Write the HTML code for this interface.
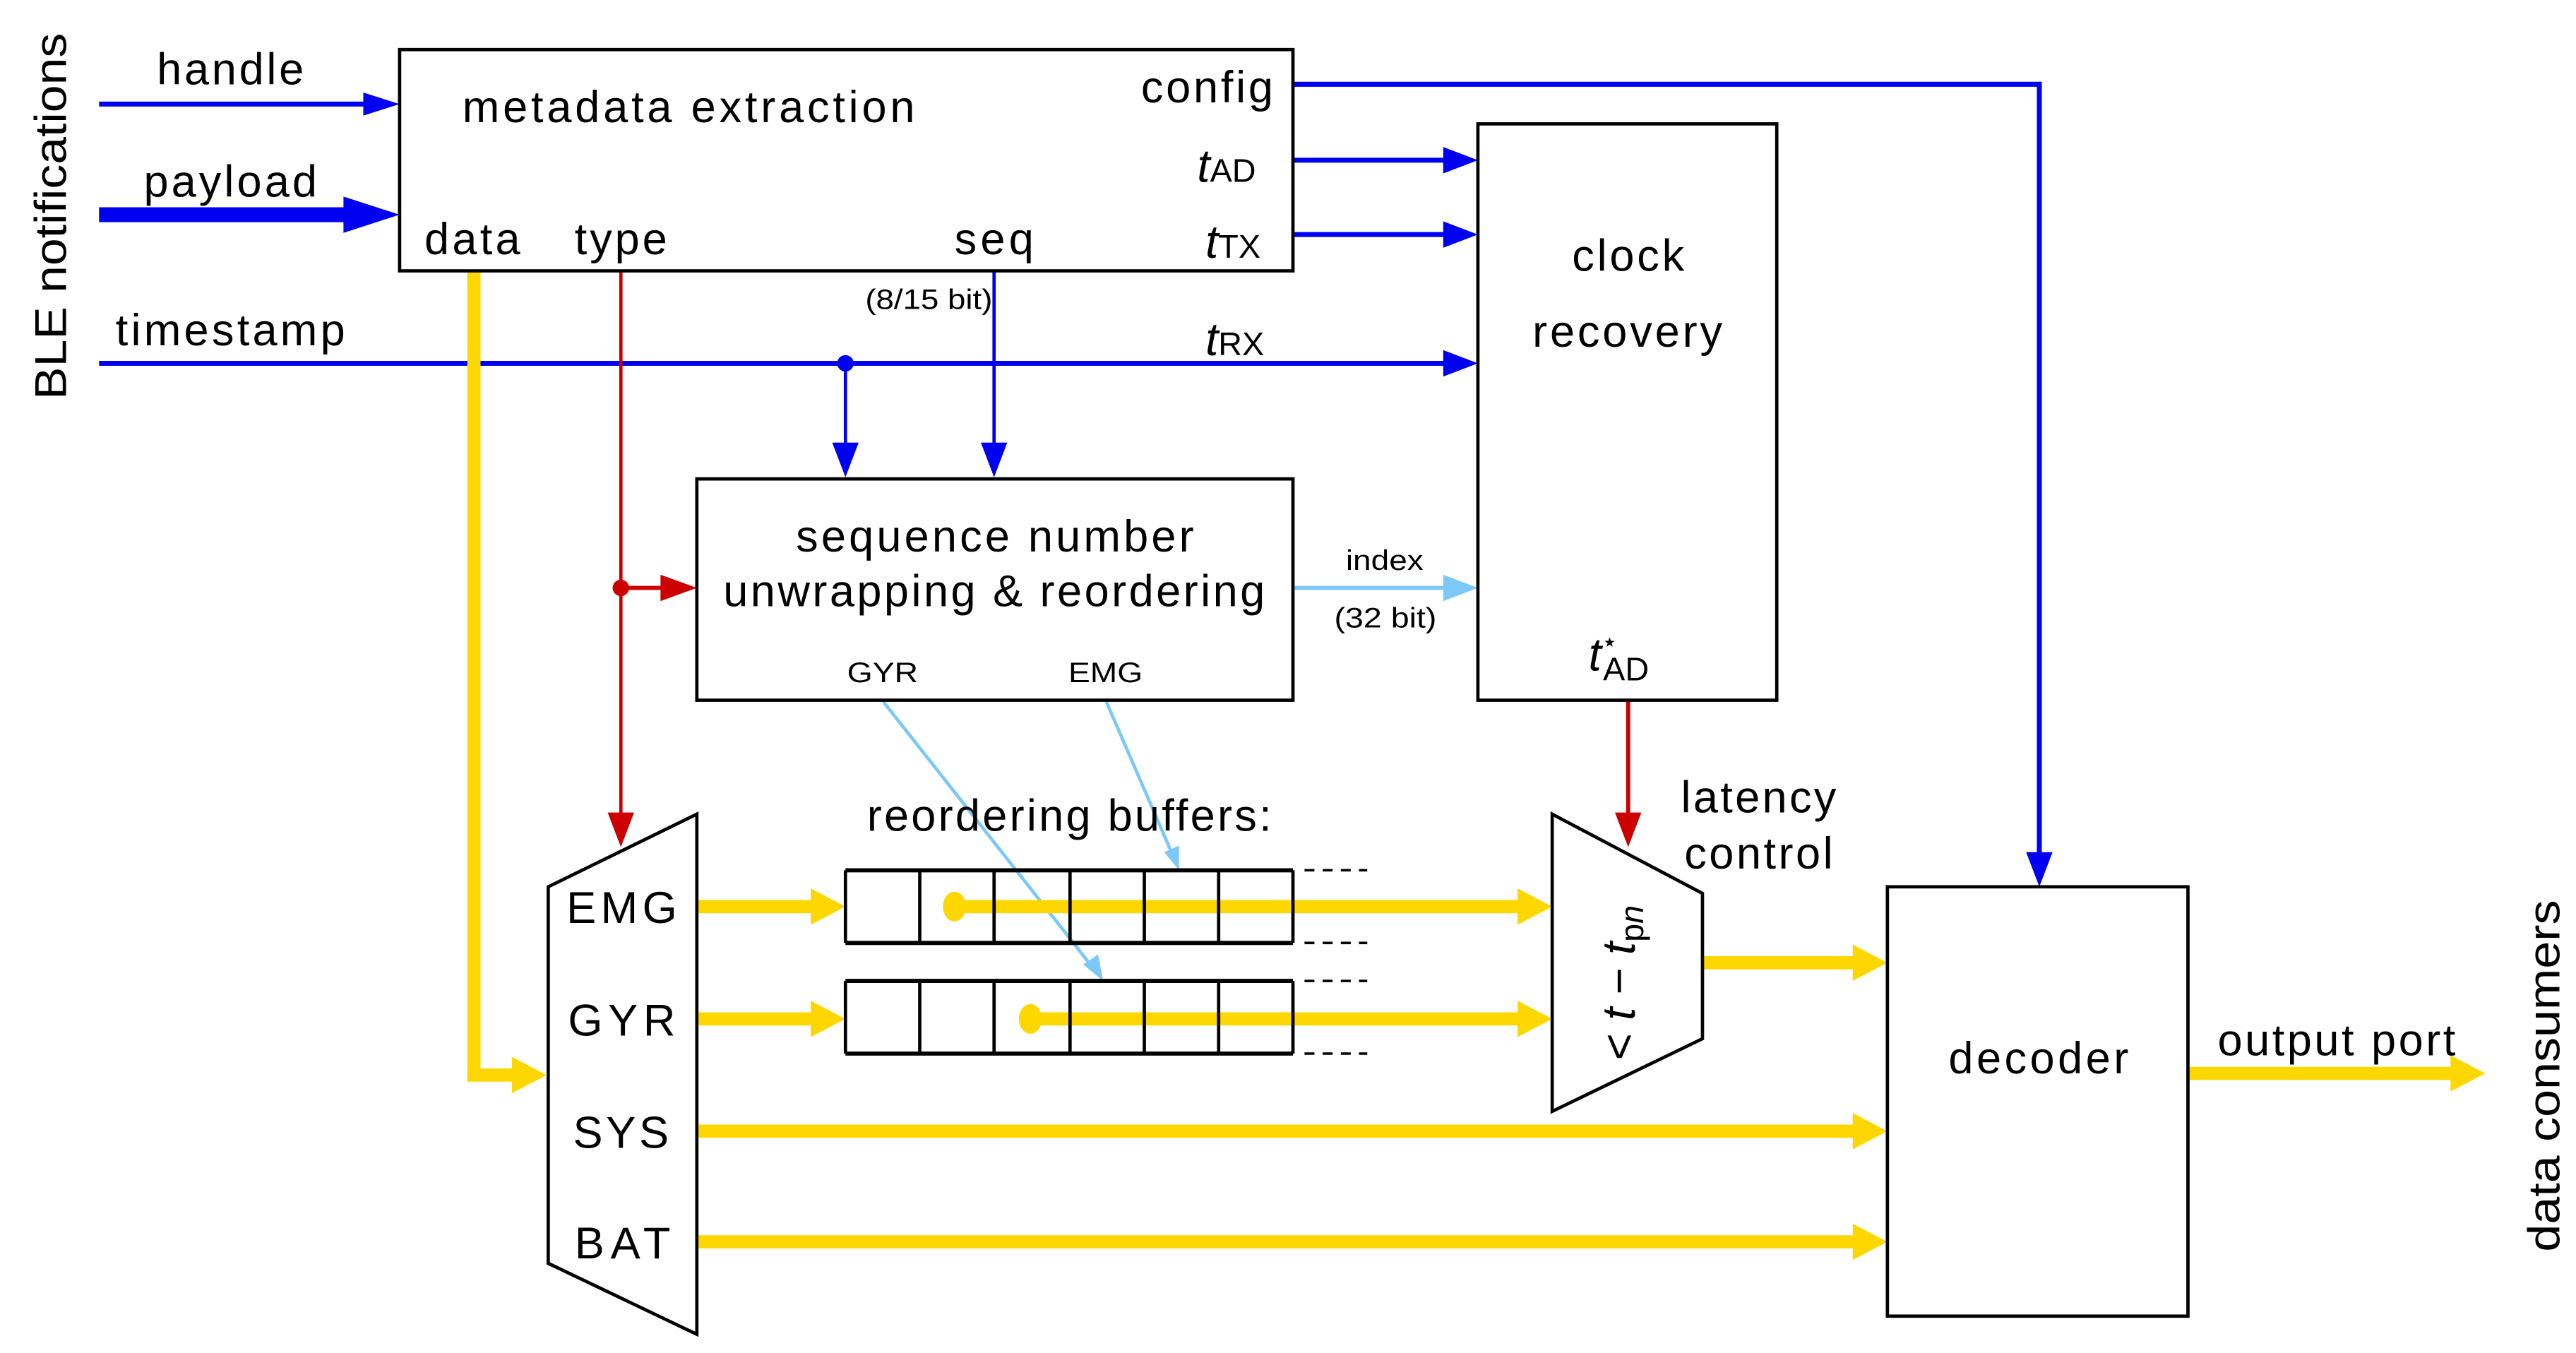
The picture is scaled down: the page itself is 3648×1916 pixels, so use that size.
<!DOCTYPE html>
<html><head><meta charset="utf-8"><style>
html,body{margin:0;padding:0;background:#fff;}
svg{display:block;}
text{font-family:"Liberation Sans",sans-serif;fill:#000;}
.m{font-family:"Liberation Serif",serif;}
</style></head><body>
<svg width="3648" height="1916" viewBox="0 0 1560 819.3" xmlns="http://www.w3.org/2000/svg">
<rect width="1560" height="820" fill="#fff"/>
<g fill="none" stroke-linecap="butt">
<line x1="60" y1="63" x2="228" y2="63" stroke="#0000f0" stroke-width="3"/>
<line x1="60" y1="130" x2="212" y2="130" stroke="#0000f0" stroke-width="9"/>
<line x1="60" y1="220" x2="880" y2="220" stroke="#0000f0" stroke-width="3"/>
<polyline points="783,51 1235,51 1235,520" stroke="#0000f0" stroke-width="3"/>
<line x1="783" y1="97" x2="880" y2="97" stroke="#0000f0" stroke-width="3"/>
<line x1="783" y1="142" x2="880" y2="142" stroke="#0000f0" stroke-width="3"/>
<line x1="602" y1="164" x2="602" y2="272" stroke="#0000f0" stroke-width="2"/>
<line x1="512" y1="220" x2="512" y2="272" stroke="#0000f0" stroke-width="2"/>
<line x1="783" y1="356" x2="880" y2="356" stroke="#7cc8f8" stroke-width="2.5"/>
<line x1="535" y1="425" x2="665" y2="590" stroke="#7cc8f8" stroke-width="2"/>
<line x1="670" y1="425" x2="712" y2="522" stroke="#7cc8f8" stroke-width="2"/>
<line x1="376" y1="164" x2="376" y2="495" stroke="#cc0000" stroke-width="2"/>
<line x1="376" y1="356" x2="405" y2="356" stroke="#cc0000" stroke-width="2.5"/>
<line x1="986" y1="424" x2="986" y2="496" stroke="#cc0000" stroke-width="2.5"/>
<polyline points="287,164 287,651 314,651" stroke="#ffd700" stroke-width="8"/>
<line x1="422" y1="549" x2="495" y2="549" stroke="#ffd700" stroke-width="8"/>
<line x1="422" y1="617" x2="495" y2="617" stroke="#ffd700" stroke-width="8"/>
<line x1="578" y1="549" x2="922" y2="549" stroke="#ffd700" stroke-width="8"/>
<line x1="624" y1="617" x2="922" y2="617" stroke="#ffd700" stroke-width="8"/>
<line x1="422" y1="685" x2="1126" y2="685" stroke="#ffd700" stroke-width="8"/>
<line x1="422" y1="752" x2="1126" y2="752" stroke="#ffd700" stroke-width="8"/>
<line x1="1031" y1="583" x2="1126" y2="583" stroke="#ffd700" stroke-width="8"/>
<line x1="1325" y1="650" x2="1488" y2="650" stroke="#ffd700" stroke-width="8"/>
</g>
<g fill="#0000f0">
<polygon points="220,56 242,63 220,70"/>
<polygon points="208,119 242,130 208,141"/>
<polygon points="874,212 895,220 874,228"/>
<polygon points="874,89 895,97 874,105"/>
<polygon points="874,134 895,142 874,150"/>
<polygon points="1227,516 1235,537 1243,516"/>
<polygon points="594,268 602,289 610,268"/>
<polygon points="504,268 512,289 520,268"/>
<circle cx="512" cy="220" r="5"/>
</g>
<g fill="#7cc8f8">
<polygon points="874,348 895,356 874,364"/>
<polygon points="656,584 668,594 665,578"/>
<polygon points="705,516 714,527 714,512"/>
</g>
<g fill="#cc0000">
<polygon points="368,492 376,513 384,492"/>
<polygon points="400,348 422,356 400,364"/>
<polygon points="978,492 986,513 994,492"/>
<circle cx="376" cy="356" r="5"/>
</g>
<g fill="#ffd700">
<polygon points="310,640 331,651 310,662"/>
<polygon points="491,538 512,549 491,560"/>
<polygon points="491,606 512,617 491,628"/>
<polygon points="919,538 940,549 919,560"/>
<polygon points="919,606 940,617 919,628"/>
<polygon points="1122,674 1143,685 1122,696"/>
<polygon points="1122,741 1143,752 1122,763"/>
<polygon points="1122,572 1143,583 1122,594"/>
<polygon points="1484,639 1505,650 1484,661"/>
<ellipse cx="578" cy="549" rx="7" ry="9"/>
<ellipse cx="624" cy="617" rx="7" ry="9"/>
</g>
<g fill="none" stroke="#000" stroke-width="2">
<rect x="242" y="30" width="541" height="134"/>
<rect x="895" y="75" width="181" height="349"/>
<rect x="422" y="290" width="361" height="134"/>
<rect x="1143" y="537" width="182" height="260"/>
<polygon points="332,537 422,493 422,808 332,765"/>
<polygon points="940,493 1031,541 1031,629 940,673"/>
<path d="M512,527H783M512,571H783M512,594H783M512,638H783" stroke-width="2.5"/>
<path d="M512,527V571M557,527V571M602,527V571M648,527V571M693,527V571M738,527V571M783,527V571"/>
<path d="M512,594V638M557,594V638M602,594V638M648,594V638M693,594V638M738,594V638M783,594V638"/>
<path d="M790,527H828M790,571H828M790,594H828M790,638H828" stroke-dasharray="6,5" stroke-width="1.5"/>
</g>
<g font-size="27" lengthAdjust="spacingAndGlyphs">
<text x="95" y="51" textLength="89">handle</text>
<text x="87" y="119" textLength="105">payload</text>
<text x="70" y="209" textLength="139">timestamp</text>
<text x="280" y="74" textLength="274">metadata  extraction</text>
<text x="691" y="62" textLength="80">config</text>
<text x="257" y="154" textLength="58">data</text>
<text x="348" y="154" textLength="56">type</text>
<text x="578" y="154" textLength="48">seq</text>
<text x="952" y="164" textLength="68">clock</text>
<text x="928" y="210" textLength="115">recovery</text>
<text x="482" y="334" textLength="241">sequence number</text>
<text x="438" y="367" textLength="328">unwrapping &amp; reordering</text>
<text x="525" y="503" textLength="245">reordering buffers:</text>
<text x="1018" y="492" textLength="94">latency</text>
<text x="1020" y="526" textLength="90">control</text>
<text x="1180" y="650" textLength="109">decoder</text>
<text x="1343" y="639" textLength="144">output port</text>
<text x="343" y="559" textLength="67">EMG</text>
<text x="344" y="627" textLength="65">GYR</text>
<text x="347" y="695" textLength="58">SYS</text>
<text x="348" y="762" textLength="58">BAT</text>
<text transform="translate(40,242) rotate(-90)" textLength="222" lengthAdjust="spacingAndGlyphs">BLE notifications</text>
<text transform="translate(1550,758) rotate(-90)" textLength="213" lengthAdjust="spacingAndGlyphs">data consumers</text>
</g>
<g font-size="17">
<text x="524" y="187" textLength="77" lengthAdjust="spacingAndGlyphs">(8/15 bit)</text>
<text x="815" y="345" textLength="47" lengthAdjust="spacingAndGlyphs">index</text>
<text x="808" y="380" textLength="62" lengthAdjust="spacingAndGlyphs">(32 bit)</text>
<text x="513" y="413" textLength="43" lengthAdjust="spacingAndGlyphs">GYR</text>
<text x="647" y="413" textLength="45" lengthAdjust="spacingAndGlyphs">EMG</text>
</g>
<g class="m" font-size="28">
<text x="725" y="110"><tspan font-style="italic">t</tspan><tspan font-size="20">AD</tspan></text>
<text x="730" y="156"><tspan font-style="italic">t</tspan><tspan font-size="20">TX</tspan></text>
<text x="730" y="215"><tspan font-style="italic">t</tspan><tspan font-size="20">RX</tspan></text>
<text x="962" y="406"><tspan font-style="italic">t</tspan><tspan font-size="16" dy="-12">⋆</tspan><tspan font-size="20" dx="-9" dy="18">AD</tspan></text>
<text transform="translate(990,642) rotate(-90)">&lt; <tspan font-style="italic">t</tspan> − <tspan font-style="italic">t</tspan><tspan font-size="20" dy="5">p<tspan font-style="italic">n</tspan></tspan></text>
</g>
</svg>
</body></html>
